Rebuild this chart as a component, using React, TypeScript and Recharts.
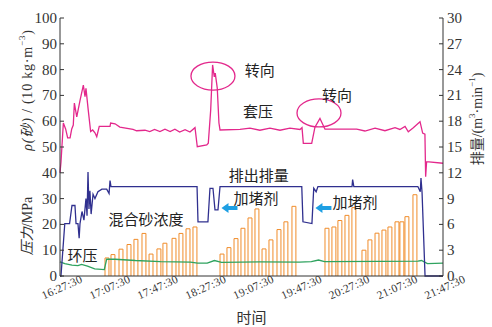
import { ComposedChart, Line, XAxis, YAxis, ReferenceDot } from "recharts";

document.body.style.margin = "0";

// minutes after 16:27:30 -> value
const casingPressure: [number, number][] = [
  [0, 40], [0.8, 44], [2.8, 59.3], [4.7, 57], [6.4, 53.5], [8.4, 53.5], [9.8, 57],
  [11.1, 58.5], [12, 67], [14, 61.7], [16.7, 68], [19.5, 74], [20.9, 69.5], [21.7, 72.7],
  [23.6, 64.3], [25.6, 56], [27.3, 56.6], [29.2, 55.5], [30.7, 54], [32.8, 58], [41.8, 58],
  [42.3, 59.3], [46, 59], [50, 57.7], [61, 56.8], [64, 56.3], [71, 56.5], [75, 56],
  [79, 56.8], [83.5, 56], [87.7, 56.9], [92, 56], [96, 56.9], [100, 55.8], [104.5, 56.7],
  [108.6, 55.8], [112.8, 57.5], [114.7, 50.1], [122.6, 50.8], [123.9, 51.5], [125.9, 64.3],
  [127.5, 81.8], [128.9, 77.2], [129.7, 78.6], [131.4, 72.8], [132.8, 59.3], [133.7, 56.6],
  [150.4, 56.8], [158.7, 57.3], [167, 56.5], [175.4, 57.3], [183.8, 56.5], [192.1, 57.3],
  [200.5, 56.8], [202.2, 57.5], [203.3, 51.4], [210.3, 51.4], [213, 57.7], [217.2, 61.1],
  [221.4, 56.9], [247.9, 56.9], [254.8, 56.2], [263.2, 57.3], [271.5, 56.3], [279.9, 57.5],
  [284, 56.8], [288.3, 58], [291, 55.9], [295.2, 57.5], [300.8, 59.8], [303, 55.4],
  [304.9, 55], [305.5, 38.5], [306.3, 44.3], [320, 43.7],
];

const dischargeRate: [number, number][] = [
  [0, 0], [0.8, 0], [4, 6.1], [8, 6.1], [10, 8.2], [12.5, 8.2], [13.4, 6.1], [15, 6.1],
  [16, 4.4], [16.7, 6.1], [18.4, 7.5], [20, 6.5], [21.7, 9], [22.6, 7], [23.4, 12.1],
  [24.2, 7.8], [25, 9.9], [26, 7.2], [27.6, 9.5], [29.2, 9], [31.7, 9.8], [35, 10.1],
  [39, 10.1], [41, 9.6], [41.8, 11.1], [42.6, 10.4], [114.5, 10.4], [115.3, 6.3],
  [123.6, 6.3], [125.3, 10.2], [127.8, 10.2], [129.5, 7.7], [132, 7.7], [133.7, 10.4],
  [202, 10.4], [203, 6.3], [210.5, 6.1], [212, 10.2], [214, 9.8], [215.5, 10.4],
  [244, 10.4], [244.5, 11.2], [245.5, 10.4], [299, 10.4], [301, 9.8], [301.6, 11.4],
  [302.5, 9.7], [305, 0], [320, 0],
];

const annulusPressure: [number, number][] = [
  [0, 5.5], [4, 4.8], [10, 4.2], [15, 4], [18, 4.5], [23, 3.8], [29, 2.8], [37, 2.5],
  [39, 6.5], [46, 6.5], [63, 6], [84, 5.6], [109, 5.4], [115, 5], [123, 5], [129, 6],
  [135, 5.3], [167, 5.5], [200, 5.4], [210, 5.6], [216, 6.2], [221, 5.6], [267, 5.7],
  [299, 5.8], [302, 6], [307, 4.8], [320, 5],
];

// sand slugs: start minute and concentration
const slugStart = [
  37.6, 42.6, 49.3, 56, 61.8, 68.5, 74.4, 81, 86, 93.6, 99.4, 105.3, 111.1,
  133.7, 139.5, 145.4, 151.2, 157.1, 162.9, 168.8, 174.6, 181.3, 187.1, 193.8,
  221.4, 227.2, 232.2, 238.1, 243.9, 252.3, 257.3, 263.2, 269, 274, 279.9, 284, 288.2, 294.9,
];
const slugConc = [
  7, 8.3, 10.4, 12.2, 14.2, 16.5, 8.5, 10.5, 12.7, 14.6, 16.5, 18.3, 19,
  8.5, 11, 14.5, 18.5, 22.5, 26, 10.5, 14, 18, 21, 27,
  18.5, 19, 21.5, 23.5, 26.5, 10, 14, 16.6, 17.8, 19, 21, 21, 23, 31.5,
];
const SLUG_LEN = 3.3;

const leftTicks = [0, 10, 20, 30, 40, 50, 60, 70, 80, 90, 100];
const rightTicks = [0, 3, 6, 9, 12, 15, 18, 21, 24, 27, 30];
const timeTicks = [0, 40, 80, 120, 160, 200, 240, 280, 320];

const toRows = (pts: [number, number][]) => pts.map(([t, v]) => ({ t, v }));

const slugRows: { t: number; v: number | null }[] = [];
slugStart.forEach((s, i) => {
  const e = s + SLUG_LEN;
  slugRows.push({ t: s, v: 0 }, { t: s, v: slugConc[i] }, { t: e, v: slugConc[i] }, { t: e, v: 0 }, { t: e, v: null });
});

const AXIS = "#333";
const PINK = "#e3288c";
const NAVY = "#30308f";
const ORANGE = "#f08c2a";
const GREEN = "#2fa35f";
const CYAN = "#1e9fe3";
const SERIF = "'Liberation Serif', 'Noto Sans CJK SC', serif";
const CJK = "'Noto Sans CJK SC', sans-serif";

function clock(min: number) {
  const total = 16 * 60 + 27 + min;
  const h = Math.floor(total / 60);
  const m = String(total % 60).padStart(2, "0");
  return `${h}:${m}:30`;
}

const LeftTick = ({ x, y, payload }: any) => (
  <g>
    <line x1={x + 3} x2={x + 7} y1={y} y2={y} stroke={AXIS} />
    <text x={x} y={y} dy={5} textAnchor="end" fontFamily={SERIF} fontSize={15} fill={AXIS}>
      {payload.value}
    </text>
  </g>
);

const RightTick = ({ x, y, payload }: any) => (
  <g>
    <line x1={x - 8} x2={x - 4} y1={y} y2={y} stroke={AXIS} />
    <text x={x} y={y} dy={5} textAnchor="start" fontFamily={SERIF} fontSize={15} fill={AXIS}>
      {payload.value}
    </text>
  </g>
);

const TimeTick = ({ x, y, payload }: any) => {
  const cx = x + 2;
  const cy = y + 11;
  return (
    <text
      x={cx}
      y={cy}
      dy={4}
      textAnchor="middle"
      transform={`rotate(-24, ${cx}, ${cy})`}
      fontFamily={SERIF}
      fontSize={11.5}
      letterSpacing={0.3}
      fill={AXIS}
    >
      {clock(payload.value)}
    </text>
  );
};

const LeftTitle = ({ viewBox }: any) => {
  const x = viewBox.x + 27;
  const y1 = viewBox.y + 72;
  const y2 = viewBox.y + 208;
  return (
    <g fontFamily={SERIF} fontSize={14} fill={AXIS}>
      <text x={x} y={y1} textAnchor="middle" dominantBaseline="central" transform={`rotate(-90, ${x}, ${y1})`} letterSpacing={0.8}>
        <tspan fontStyle="italic">ρ</tspan>
        <tspan fontStyle="italic">(砂)</tspan>
        <tspan> / (10 kg·m</tspan>
        <tspan dy={-5} fontSize={9}>−3</tspan>
        <tspan dy={5}>)</tspan>
      </text>
      <text x={x} y={y2} textAnchor="middle" dominantBaseline="central" transform={`rotate(-90, ${x}, ${y2})`}>
        <tspan fontStyle="italic">压力</tspan>
        <tspan>/MPa</tspan>
      </text>
    </g>
  );
};

const RightTitle = ({ viewBox }: any) => {
  const x = viewBox.x + 34;
  const y = viewBox.y + 101;
  return (
    <text x={x} y={y} textAnchor="middle" dominantBaseline="central" transform={`rotate(-90, ${x}, ${y})`} fontFamily={SERIF} fontSize={14} fill={AXIS}>
      <tspan>排量/(m</tspan>
      <tspan dy={-5} fontSize={9}>3</tspan>
      <tspan dy={5}>·min</tspan>
      <tspan dy={-5} fontSize={9}>−1</tspan>
      <tspan dy={5}>)</tspan>
    </text>
  );
};

const TimeTitle = ({ viewBox }: any) => (
  <text x={viewBox.x + viewBox.width / 2} y={viewBox.y + 42} dy={5} textAnchor="middle" fontFamily={CJK} fontSize={15} fill={AXIS}>
    时间
  </text>
);

const note = (text: string) => (p: any) => (
  <text x={p.cx} y={p.cy} textAnchor="middle" dominantBaseline="central" fontFamily={CJK} fontSize={15} fill="#222">
    {text}
  </text>
);

const ring = (p: any) => (
  <ellipse cx={p.cx} cy={p.cy} rx={22} ry={14} fill="none" stroke={PINK} strokeWidth={1.3} />
);

const arrow = (p: any) => (
  <path d={`M${p.cx - 8},${p.cy} l7,-5 v3 h9 v4 h-9 v3 z`} fill={CYAN} />
);

export default function App() {
  return (
    <ComposedChart width={492} height={327} margin={{ top: 18, right: 0, bottom: 0, left: 0 }}>
      <XAxis
        dataKey="t"
        type="number"
        domain={[0, 320]}
        ticks={timeTicks}
        interval={0}
        tickSize={0}
        tickMargin={0}
        tickLine={false}
        tick={<TimeTick />}
        axisLine={{ stroke: AXIS }}
        height={51}
        label={TimeTitle}
      />
      <YAxis
        yAxisId="left"
        domain={[0, 100]}
        ticks={leftTicks}
        interval={0}
        tickSize={0}
        tickMargin={3}
        tickLine={false}
        tick={<LeftTick />}
        axisLine={{ stroke: AXIS }}
        width={60}
        label={LeftTitle}
      />
      <YAxis
        yAxisId="right"
        orientation="right"
        domain={[0, 30]}
        ticks={rightTicks}
        interval={0}
        tickSize={0}
        tickMargin={4}
        tickLine={false}
        tick={<RightTick />}
        axisLine={{ stroke: AXIS }}
        width={49}
        label={RightTitle}
      />

      <Line yAxisId="left" data={slugRows} dataKey="v" type="linear" stroke={ORANGE} strokeWidth={1} dot={false} activeDot={false} isAnimationActive={false} />
      <Line yAxisId="left" data={toRows(annulusPressure)} dataKey="v" type="linear" stroke={GREEN} strokeWidth={1.3} dot={false} activeDot={false} isAnimationActive={false} />
      <Line yAxisId="right" data={toRows(dischargeRate)} dataKey="v" type="linear" stroke={NAVY} strokeWidth={1.3} dot={false} activeDot={false} isAnimationActive={false} />
      <Line yAxisId="left" data={toRows(casingPressure)} dataKey="v" type="linear" stroke={PINK} strokeWidth={1.3} dot={false} activeDot={false} isAnimationActive={false} />

      <ReferenceDot yAxisId="left" x={127.8} y={77.5} r={0} shape={ring} />
      <ReferenceDot yAxisId="left" x={216.4} y={63.2} r={0} shape={ring} />
      <ReferenceDot yAxisId="left" x={167} y={80.2} r={0} shape={note("转向")} />
      <ReferenceDot yAxisId="left" x={231.4} y={70.2} r={0} shape={note("转向")} />
      <ReferenceDot yAxisId="left" x={165.4} y={64} r={0} shape={note("套压")} />
      <ReferenceDot yAxisId="left" x={166} y={39.5} r={0} shape={note("排出排量")} />
      <ReferenceDot yAxisId="left" x={163.7} y={30.6} r={0} shape={note("加堵剂")} />
      <ReferenceDot yAxisId="left" x={246.5} y={29} r={0} shape={note("加堵剂")} />
      <ReferenceDot yAxisId="left" x={141.6} y={26.4} r={0} shape={arrow} />
      <ReferenceDot yAxisId="left" x={220.1} y={26.4} r={0} shape={arrow} />
      <ReferenceDot yAxisId="left" x={71.8} y={22.1} r={0} shape={note("混合砂浓度")} />
      <ReferenceDot yAxisId="left" x={18.8} y={8.5} r={0} shape={note("环压")} />
    </ComposedChart>
  );
}
